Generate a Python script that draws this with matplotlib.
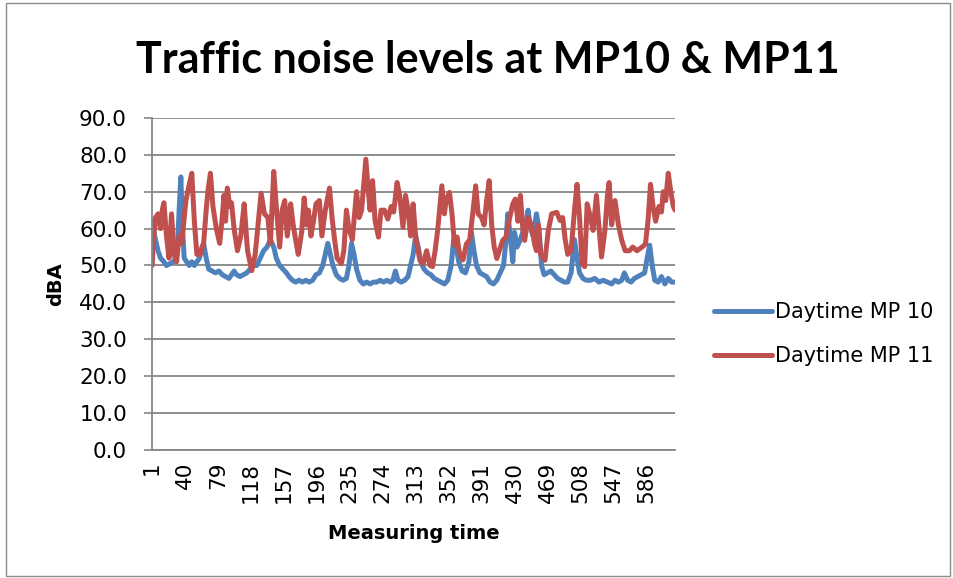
import matplotlib.pyplot as plt
from matplotlib.patches import Rectangle

plt.rcParams['font.family'] = ['DejaVu Sans']

# category positions (measuring time index) and readings, dBA
n_points = 620
tick_labels = [1, 40, 79, 118, 157, 196, 235, 274, 313, 352, 391, 430, 469, 508, 547, 586]

mp10_t = [1, 4, 8, 11, 15, 18, 22, 26, 29, 31, 33, 35, 37, 39, 42, 45, 48, 51, 54, 57,
          60, 62, 65, 68, 72, 76, 80, 84, 88, 92, 95, 98, 101, 105, 109, 113, 117, 121, 125, 129,
          133, 137, 141, 145, 148, 152, 156, 160, 163, 167, 171, 175, 179, 183, 187, 191, 195, 199, 203, 206,
          209, 212, 215, 219, 223, 227, 231, 234, 237, 240, 243, 247, 251, 255, 259, 263, 267, 271, 275, 279,
          283, 286, 289, 292, 296, 300, 304, 307, 310, 313, 316, 319, 323, 327, 331, 335, 339, 343, 347, 351,
          355, 358, 361, 364, 368, 372, 376, 379, 382, 385, 389, 393, 397, 401, 405, 409, 413, 417, 420, 422,
          425, 428, 430, 433, 437, 441, 444, 446, 449, 452, 456, 459, 462, 465, 469, 473, 477, 481, 485, 489,
          493, 497, 501, 504, 507, 511, 515, 520, 525, 530, 535, 540, 545, 549, 553, 557, 560, 564, 568, 572,
          576, 580, 584, 587, 590, 593, 596, 600, 604, 608, 612, 616, 620]
mp10_db = [62, 58, 54, 52, 51, 50, 50.5, 51, 52, 55, 65, 74, 60, 52, 51, 50, 51, 50, 51, 52,
           55, 56, 52, 49, 48.5, 48, 48.5, 47.5, 47, 46.5, 47.5, 48.5, 47.5, 47, 47.5, 48, 49, 50, 50, 52,
           54, 55, 57, 55, 52, 50, 49, 48, 47, 46, 45.5, 46, 45.5, 46, 45.5, 46, 47.5, 48, 50, 53,
           56, 53, 50, 47.5, 46.5, 46, 46.5, 50, 56, 53, 49, 46, 45, 45.5, 45, 45.5, 45.5, 46, 45.5, 46,
           45.5, 46, 48.5, 46, 45.5, 46, 47, 50, 53, 58, 55, 51, 49, 48, 47.5, 46.5, 46, 45.5, 45, 46,
           50, 57, 55, 51, 48.5, 48, 51, 59, 54, 50, 48, 47.5, 47, 45.5, 45, 46, 48, 50, 57, 64,
           58, 51, 59, 55, 57, 60, 62, 65, 60, 58, 64, 60, 50, 47.5, 48, 48.5, 47.5, 46.5, 46, 45.5,
           45.5, 48, 57, 52, 48, 46.5, 46, 46, 46.5, 45.5, 46, 45.5, 45, 46, 45.5, 46, 48, 46, 45.5, 46.5,
           47, 47.5, 48, 52, 55.5, 50, 46, 45.5, 47, 45, 46.5, 45.5, 45.5]

mp11_t = [1, 3, 5, 8, 11, 13, 15, 18, 21, 24, 27, 30, 33, 36, 39, 41, 45, 48, 51, 54,
          58, 62, 65, 67, 70, 73, 77, 81, 84, 86, 88, 90, 93, 95, 98, 102, 106, 110, 112, 114,
          119, 123, 126, 130, 134, 138, 141, 145, 148, 152, 155, 158, 161, 165, 168, 171, 174, 178, 181, 184,
          186, 189, 192, 195, 199, 202, 206, 211, 214, 217, 220, 225, 228, 231, 234, 238, 243, 246, 249, 254,
          257, 259, 262, 265, 269, 272, 276, 280, 284, 287, 291, 294, 298, 301, 304, 307, 310, 313, 318, 322,
          326, 330, 333, 336, 339, 344, 347, 349, 353, 356, 359, 362, 365, 369, 373, 377, 381, 384, 387, 391,
          394, 397, 400, 403, 406, 409, 412, 416, 420, 424, 428, 431, 434, 437, 440, 442, 446, 450, 454, 456,
          458, 461, 466, 470, 474, 480, 484, 487, 490, 493, 497, 501, 504, 507, 510, 513, 516, 520, 523, 527,
          530, 533, 537, 540, 542, 545, 549, 553, 557, 561, 566, 570, 575, 581, 585, 588, 591, 594, 597, 601,
          604, 606, 609, 612, 615, 618, 620]
mp11_db = [50, 58, 63, 64, 60, 65, 67, 58, 52, 64, 53, 51, 58, 56, 63, 67.6, 72, 75, 62, 53,
           53, 56, 65, 70, 75, 66, 60, 56, 63, 69, 62, 71, 66, 67, 60, 54, 58, 66.7, 60, 54,
           48.6, 53, 60, 69.6, 64, 63, 56, 75.5, 66, 55, 65, 67.6, 58, 66.7, 61, 56.8, 53, 59, 68.3, 61,
           65, 58, 62, 66.7, 67.6, 58, 65, 71, 63, 57, 52, 50.5, 54, 65, 60, 57, 70, 63, 65, 78.8,
           70, 65, 73, 62, 57.7, 65, 65, 62.6, 66, 64.5, 72.5, 69, 60.4, 69, 65, 58, 66.7, 57.7, 51.4, 50.5,
           54, 50, 49.7, 54, 59.5, 71.6, 64, 67.6, 69.8, 64, 55.5, 57.7, 53, 51.5, 55.8, 57, 65, 71.6, 64, 63,
           61, 67.6, 73, 61, 55, 51.9, 54, 56.8, 57.7, 62.6, 66.7, 68, 62, 69, 59.5, 56.8, 63, 61, 55.5, 54,
           61, 53, 51.4, 59.5, 64, 64.4, 62.2, 63, 57, 53, 54, 65, 72, 63, 50.5, 49.7, 66.7, 63, 59.5, 69,
           60.4, 52.3, 59.5, 69, 72.5, 61, 67.6, 61, 56.8, 54, 54, 55, 54, 55, 55.8, 62, 72, 66, 62, 66,
           64.5, 70, 67.6, 75, 70, 66, 65]

fig = plt.figure(figsize=(9.54, 5.78), dpi=100)
fig.patches.append(Rectangle((0.006, 0.003), 0.990, 0.992, transform=fig.transFigure,
                             fill=False, edgecolor='#8c8c8c', linewidth=1.0))

ax = fig.add_axes([0.159, 0.2215, 0.549, 0.5745])
ax.plot(mp10_t, mp10_db, color='#4F81BD', linewidth=3.6, solid_joinstyle='round',
        solid_capstyle='round', label='Daytime MP 10')
ax.plot(mp11_t, mp11_db, color='#C0504D', linewidth=3.6, solid_joinstyle='round',
        solid_capstyle='round', label='Daytime MP 11')

ax.set_xlim(0.5, n_points + 0.5)
ax.set_ylim(0, 90)
ax.set_yticks(range(0, 91, 10))
ax.set_yticklabels([f"{v:.1f}" for v in range(0, 91, 10)], fontsize=15.5)
ax.set_xticks(tick_labels)
ax.set_xticklabels([str(t) for t in tick_labels], rotation=90, fontsize=15.5)
ax.tick_params(axis='x', length=0, pad=8.5)
ax.tick_params(axis='y', length=5.8, width=1.2, color='#868686', pad=12)
ax.grid(axis='y', color='#868686', linewidth=1.3)
ax.set_axisbelow(True)
for side in ['top', 'right']:
    ax.spines[side].set_visible(False)
for side in ['left', 'bottom']:
    ax.spines[side].set_color('#868686')
    ax.spines[side].set_linewidth(1.3)

ax.set_xlabel('Measuring time', fontsize=14, fontweight='bold', labelpad=15)
ax.set_ylabel('dBA', fontsize=14, fontweight='bold', labelpad=10)
fig.text(0.511, 0.897, 'Traffic noise levels at MP10 & MP11', ha='center', va='center',
         fontsize=31, fontweight='bold', family=['Lato', 'DejaVu Sans'])

fig.legend(loc='center left', bbox_to_anchor=(0.729, 0.422), frameon=False, fontsize=15,
           handlelength=2.75, handletextpad=0.15, labelspacing=1.15, borderpad=0.4)

fig.savefig('out.png', dpi=100)
